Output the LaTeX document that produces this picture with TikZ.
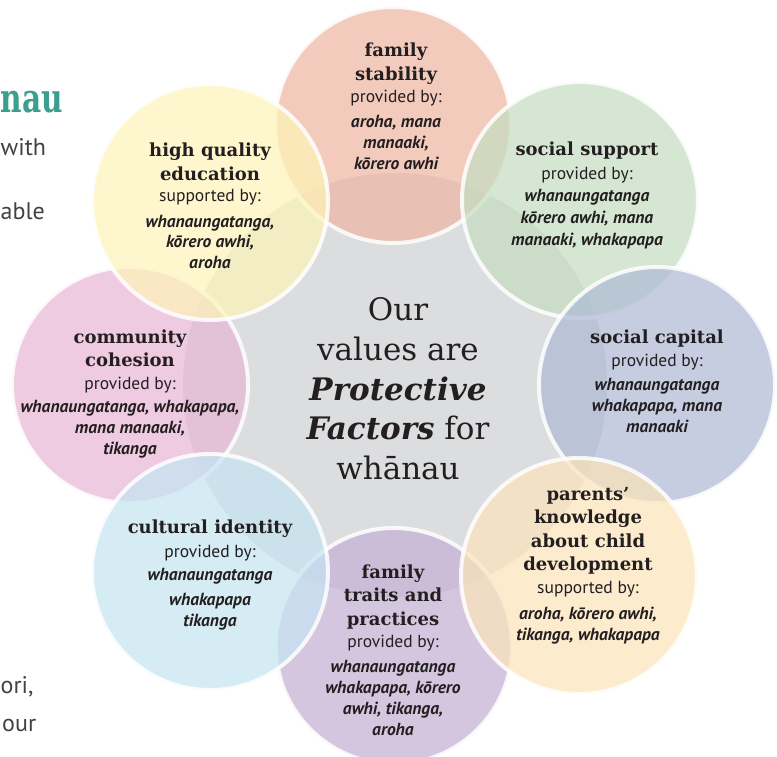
\documentclass[tikz,border=0pt]{standalone}
\usepackage{fontspec}
\usepackage{graphicx}
\setmainfont{DejaVu Serif}
\newfontfamily\ptsans{PT Sans}
\definecolor{ink}{RGB}{35,31,32}
\definecolor{teal}{RGB}{58,159,140}
\definecolor{coregray}{RGB}{220,221,223}
\definecolor{csalmon}{RGB}{238,182,162}
\definecolor{cgreen}{RGB}{196,222,192}
\definecolor{cblue}{RGB}{174,184,213}
\definecolor{corange}{RGB}{252,228,185}
\definecolor{cpurple}{RGB}{196,175,212}
\definecolor{ccyan}{RGB}{196,229,242}
\definecolor{cpink}{RGB}{231,182,211}
\definecolor{cyellow}{RGB}{254,245,184}
\newcommand\txtblock[6]{%
  \foreach \tline [count=\k] in {#6} {%
    \node[#5, anchor=base] (#1-\k) at (#2,{#3+(\k-1)*#4}) {\tline};}}
\begin{document}
\begin{tikzpicture}[x=1pt,y=-1pt,
  petal/.style={circle, minimum size=236pt, inner sep=0pt, fill opacity=0.7,
    draw=white, draw opacity=0.85, line width=4pt},
  ttl/.style={font=\bfseries\fontsize{18}{21}\selectfont, text=ink, inner sep=0pt},
  prov/.style={font=\ptsans\fontsize{17.5}{20}\selectfont, text=ink, inner sep=0pt},
  val/.style={font=\ptsans\bfseries\itshape\fontsize{17.5}{20}\selectfont, text=ink, inner sep=0pt},
  core/.style={font=\fontsize{31}{36}\selectfont, text=ink, inner sep=0pt},
  frag/.style={font=\ptsans\fontsize{24}{28}\selectfont, text=ink!85!white, inner sep=0pt}]
\useasboundingbox (0,0) rectangle (777,757);
\clip (0,0) rectangle (777,757);
\fill[white] (0,0) rectangle (777,757);

% page text fragments at the left edge
\node[font=\bfseries\fontsize{40}{44}\selectfont, text=teal, inner sep=0pt, anchor=base west] (fnau) at (0.5,113) {\scalebox{0.74}[1]{nau}};
\node[frag, anchor=base west] (fwith) at (0.5,156) {with};
\node[frag, anchor=base west] (fable) at (0.5,219) {able};
\node[frag, anchor=base west] (fori) at (0.5,693) {ori,};
\node[frag, anchor=base west] (four) at (2,731) {our};

% central disc
\node[circle, minimum size=424pt, inner sep=0pt, fill=coregray] (core) at (395,385) {};

% petals
\node[petal, fill=csalmon] (stab) at (393,125) {};
\node[petal, fill=cpurple] (trait) at (394,646) {};
\node[petal, fill=cpink] (comm) at (130,385) {};
\node[petal, fill=cgreen] (supp) at (580,200) {};
\node[petal, fill=cblue] (capi) at (657,385) {};
\node[petal, fill=corange] (pare) at (579,576) {};
\node[petal, fill=ccyan] (cult) at (210,572) {};
\node[petal, fill=cyellow] (educ) at (210,202) {};

% texts
\txtblock{stabT}{396}{57}{23.5}{ttl}{family,stability}
\node[prov, anchor=base] (stabP) at (396,102.5) {provided by:};
\txtblock{stabV}{396}{127.5}{21}{val}{{aroha, mana},{manaaki,},{kōrero awhi}}

\txtblock{suppT}{587}{156}{23.5}{ttl}{social support}
\node[prov, anchor=base] (suppP) at (587,179) {provided by:};
\txtblock{suppV}{587}{202}{21.5}{val}{whanaungatanga,{kōrero awhi, mana},{manaaki, whakapapa}}

\txtblock{capiT}{657}{343}{23.5}{ttl}{social capital}
\node[prov, anchor=base] (capiP) at (657,366) {provided by:};
\txtblock{capiV}{657}{390}{21}{val}{whanaungatanga,{whakapapa, mana},manaaki}

\txtblock{pareT}{588}{500}{23.5}{ttl}{parents’,knowledge,about child,development}
\node[prov, anchor=base] (pareP) at (588,593) {supported by:};
\txtblock{pareV}{588}{619}{21}{val}{{aroha, kōrero awhi,},{tikanga, whakapapa}}

\txtblock{traitT}{393}{578}{23.5}{ttl}{family,traits and,practices}
\node[prov, anchor=base] (traitP) at (393,647) {provided by:};
\txtblock{traitV}{393}{672}{21}{val}{whanaungatanga,{whakapapa, kōrero},{awhi, tikanga,},aroha}

\txtblock{cultT}{210}{533}{23.5}{ttl}{cultural identity}
\node[prov, anchor=base] (cultP) at (210,557) {provided by:};
\node[val, anchor=base] (cultV-1) at (210,580) {whanaungatanga};
\txtblock{cultV2}{210}{605}{21}{val}{whakapapa,tikanga}

\txtblock{commT}{130}{343}{23.5}{ttl}{community,cohesion}
\node[prov, anchor=base] (commP) at (130,389) {provided by:};
\txtblock{commV}{130}{412}{21}{val}{{whanaungatanga, whakapapa,},{mana manaaki,},tikanga}

\txtblock{educT}{210}{157}{23.5}{ttl}{high quality,education}
\node[prov, anchor=base] (educP) at (210,202) {supported by:};
\txtblock{educV}{210}{227}{20.5}{val}{{whanaungatanga,},{kōrero awhi,},aroha}

% centre statement
\node[core, anchor=base] (c1) at (398,320) {Our};
\node[core, anchor=base] (c2) at (398,360) {values are};
\node[core, anchor=base] (c3) at (398,400) {\bfseries\itshape Protective};
\node[core, anchor=base] (c4) at (398,439) {{\bfseries\itshape Factors} for};
\node[core, anchor=base] (c5) at (398,479) {whānau};
\end{tikzpicture}
\end{document}
